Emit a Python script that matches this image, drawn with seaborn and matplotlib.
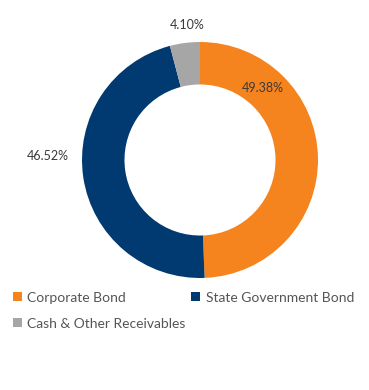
import matplotlib
matplotlib.use("Agg")
import matplotlib.pyplot as plt
import seaborn as sns
from matplotlib.patches import Patch

sns.set_theme(style="white")
plt.rcParams['font.family'] = ['Lato', 'DejaVu Sans']

categories = ["Corporate Bond", "State Government Bond", "Cash & Other Receivables"]
values = [49.38, 46.52, 4.10]
labels = ["49.38%", "46.52%", "4.10%"]
colors = ["#F5841F", "#003A70", "#A6A6A6"]

W, H = 369, 390
fig = plt.figure(figsize=(W / 100, H / 100), dpi=100)
cx, cy, r = 200, 160, 118
ax = fig.add_axes([(cx - r) / W, (H - cy - r) / H, 2 * r / W, 2 * r / H])
ax.pie(values, colors=colors, startangle=90, counterclock=False, radius=1,
       wedgeprops=dict(width=0.36, edgecolor="none"))
ax.set_xlim(-1, 1)
ax.set_ylim(-1, 1)
ax.set_aspect("equal")
ax.axis("off")

label_pos = [(0.53, 0.61), (-1.29, 0.03), (-0.11, 1.14)]
for lab, (x, y) in zip(labels, label_pos):
    ax.text(x, y, lab, ha="center", va="center", fontsize=9, color="#3a3a3a",
            fontweight="normal", clip_on=False)

handles = [Patch(facecolor=c, edgecolor="none") for c in colors]
order = [0, 2, 1]
fig.legend([handles[i] for i in order], [categories[i] for i in order],
           loc="upper left", bbox_to_anchor=(3 / W, 1 - 282 / H), ncol=2,
           frameon=False, fontsize=10, labelcolor="#555555",
           handlelength=0.65, handleheight=0.65, handletextpad=0.4,
           columnspacing=0.4, labelspacing=1.0, borderpad=0.2)

fig.savefig("out.png", dpi=100)
